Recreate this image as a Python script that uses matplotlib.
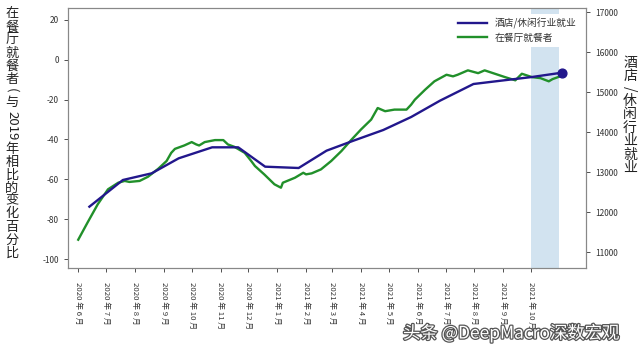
import matplotlib
matplotlib.use("Agg")
import matplotlib.pyplot as plt
import matplotlib.patheffects as pe
import pandas as pd

plt.rcParams['font.family'] = ['Noto Sans CJK SC', 'DejaVu Sans']
plt.rcParams['axes.unicode_minus'] = False

# ---- data ----
diner_dates = ["2020-06-01", "2020-06-11", "2020-06-22", "2020-07-03", "2020-07-14", "2020-07-21",
               "2020-07-26", "2020-08-06", "2020-08-15", "2020-08-26", "2020-09-04", "2020-09-09",
               "2020-09-13", "2020-09-23", "2020-10-01", "2020-10-06", "2020-10-09", "2020-10-15",
               "2020-10-26", "2020-11-04", "2020-11-09", "2020-11-16", "2020-11-27", "2020-12-04",
               "2020-12-08", "2020-12-18", "2020-12-29", "2021-01-05", "2021-01-07", "2021-01-20",
               "2021-01-29", "2021-02-01", "2021-02-07", "2021-02-17", "2021-02-28", "2021-03-11",
               "2021-03-22", "2021-04-01", "2021-04-12", "2021-04-19", "2021-04-27", "2021-05-07",
               "2021-05-20", "2021-05-25", "2021-05-29", "2021-06-09", "2021-06-19", "2021-07-02",
               "2021-07-09", "2021-07-14", "2021-07-25", "2021-08-05", "2021-08-12", "2021-08-23",
               "2021-09-03", "2021-09-14", "2021-09-21", "2021-10-02", "2021-10-11", "2021-10-20",
               "2021-10-24", "2021-11-03"]
diner_pct = [-90.3, -81.7, -72.5, -65.0, -61.7, -60.8,
             -61.3, -60.8, -58.7, -54.7, -50.8, -46.7,
             -44.7, -43.0, -41.3, -42.5, -43.0, -41.3,
             -40.3, -40.3, -42.5, -43.7, -46.7, -50.8,
             -53.3, -57.5, -62.5, -64.2, -61.7, -59.2,
             -56.7, -57.5, -57.0, -55.0, -50.8, -45.8,
             -40.0, -35.0, -30.0, -24.2, -25.8, -25.0,
             -25.0, -22.5, -20.0, -15.0, -10.8, -7.5,
             -8.3, -7.5, -5.3, -6.7, -5.3, -7.0,
             -8.7, -10.3, -7.0, -8.7, -9.2, -10.8,
             -9.7, -8.0]

emp_dates = ["2020-06-13", "2020-07-19", "2020-08-19", "2020-09-17", "2020-10-23", "2020-11-20",
             "2020-12-19", "2021-01-24", "2021-02-23", "2021-03-23", "2021-04-25", "2021-05-25",
             "2021-06-25", "2021-07-31", "2021-08-31", "2021-10-02", "2021-11-03"]
emp_values = [12133, 12800, 12967, 13342, 13617, 13617,
              13133, 13100, 13533, 13775, 14050, 14375,
              14783, 15200, 15287, 15375, 15483]

tick_months = pd.date_range("2020-06-01", "2021-10-01", freq="MS")
tick_labels = [f"{d.year} 年 {d.month} 月" for d in tick_months]

span_start, span_end = "2021-10-01", "2021-10-31"

label_emp = "酒店/休闲行业就业"
label_diner = "在餐厅就餐者"

# ---- figure ----
W, H = 640, 354
fig = plt.figure(figsize=(W / 100, H / 100), dpi=100)
ax = fig.add_axes([68 / W, 1 - 268 / H, (586 - 68) / W, (268 - 8) / H])
ax2 = ax.twinx()

green = '#21902a'
navy = '#22178c'

d_dates = pd.to_datetime(diner_dates)
e_dates = pd.to_datetime(emp_dates)

ax.axvspan(pd.Timestamp(span_start), pd.Timestamp(span_end), color='#1f77b4', alpha=0.2, lw=0, zorder=0)
l2, = ax.plot(d_dates, diner_pct, color=green, lw=1.7, label=label_diner)
l1, = ax2.plot(e_dates, emp_values, color=navy, lw=1.7, label=label_emp)
ax2.scatter([e_dates[-1]], [emp_values[-1]], s=40, color=navy, zorder=5)

ax.set_xlim(pd.Timestamp("2020-05-21"), pd.Timestamp("2021-11-29"))
ax.set_ylim(-104.5, 26)
ax2.set_ylim(10600, 17100)
ax.set_yticks([-100, -80, -60, -40, -20, 0, 20])
ax2.set_yticks([11000, 12000, 13000, 14000, 15000, 16000, 17000])
ax.set_xticks(tick_months)
ax.set_xticklabels(tick_labels, rotation=-90, fontsize=5.6, va='top', ha='center')

for a in (ax, ax2):
    a.tick_params(axis='both', labelsize=6, colors='#333333', length=3, width=0.6)
    for s in a.spines.values():
        s.set_color('#888888')
        s.set_linewidth(0.8)
ax.tick_params(axis='x', labelsize=5.6, pad=7)

leg = ax2.legend(handles=[l1, l2], loc='upper right', fontsize=7, frameon=True,
                 facecolor='white', edgecolor='none', framealpha=1,
                 handlelength=3, borderaxespad=0.6, labelspacing=0.4)
for t in leg.get_texts():
    t.set_color('#333333')


def vtext(x_px, y_top_px, segments, size, color='#222222'):
    y = y_top_px
    for s, adv, rot in segments:
        fig.text(x_px / W, 1 - (y + adv / 2) / H, s, ha='center', va='center',
                 rotation=(-90 if rot else 0), fontsize=size, color=color,
                 rotation_mode='anchor' if rot else 'default')
        y += adv


left_segments = [("在", 13, False), ("餐", 13, False), ("厅", 13, False), ("就", 13, False),
                 ("餐", 13, False), ("者", 13, False), ("(", 10, True), ("与", 13, False),
                 ("2019", 34, True), ("年", 13, False), ("相", 13, False), ("比", 13, False),
                 ("的", 13, False), ("变", 13, False), ("化", 13, False), ("百", 13, False),
                 ("分", 13, False), ("比", 13, False)]
vtext(12, 7.5, left_segments, 9.5)

right_segments = [("酒", 13.5, False), ("店", 13.5, False), ("/", 11, True), ("休", 13.5, False),
                  ("闲", 13.5, False), ("行", 13.5, False), ("业", 13.5, False), ("就", 13.5, False),
                  ("业", 13.5, False)]
vtext(630, 56, right_segments, 10)

fig.text(403 / W, 1 - 333 / H, "头条 @DeepMacro深数宏观", ha='left', va='center', fontsize=12.5,
         color='white', path_effects=[pe.withStroke(linewidth=1.8, foreground='#555555')])

fig.savefig("out.png", dpi=100)
